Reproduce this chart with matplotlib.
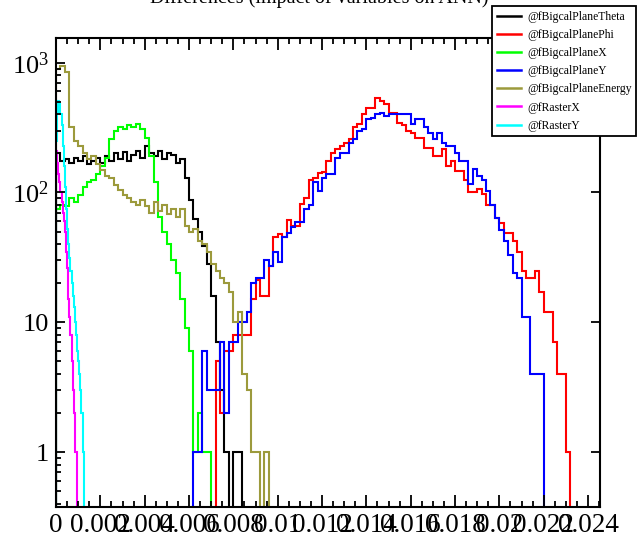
import numpy as np
import matplotlib.pyplot as plt
from matplotlib.lines import Line2D
from matplotlib.ticker import MultipleLocator, LogLocator, NullFormatter, FuncFormatter

plt.rcParams['font.family'] = ['Liberation Serif', 'DejaVu Serif']

# ---- data (counts per bin, log y) ----
title = "Differences (impact of variables on ANN)"
names = ["@fBigcalPlaneTheta", "@fBigcalPlanePhi", "@fBigcalPlaneX",
         "@fBigcalPlaneY", "@fBigcalPlaneEnergy", "@fRasterX", "@fRasterY"]
colors = ["#000000", "#ff0000", "#00ff00", "#0000ff", "#9c9a3c", "#ff00ff", "#00ffff"]

bin_w = 0.0002    # bin width of the BigCal histograms
fine_w = 0.00005  # bin width of the raster histograms

theta_lo = 0.0
theta = [200, 175, 180, 170, 185, 175, 190, 165, 175, 185, 170, 190, 175, 200,
         180, 205, 175, 195, 210, 185, 230, 200, 190, 210, 180, 200, 195, 170,
         180, 130, 87, 62, 50, 39, 28, 16, 7, 3, 1, 0, 1, 1]

phi_lo = 36 * bin_w
phi = [5, 2, 6, 6, 8, 8, 8, 8, 15, 21,
       16, 16, 27, 45, 48, 45, 61, 55, 55, 82,
       91, 124, 130, 142, 145, 175, 203, 218, 230, 240,
       260, 320, 340, 405, 450, 450, 535, 510, 480, 410,
       410, 345, 330, 300, 285, 265, 265, 220, 220, 190,
       190, 218, 160, 175, 147, 147, 124, 100, 100, 107,
       98, 80, 80, 64, 58, 49, 49, 42, 35, 25,
       22, 22, 25, 17, 12, 12, 7, 4, 4, 1]

planex_lo = 0.0
planex = [75, 80, 78, 90, 85, 95, 110, 120, 125, 140, 160, 185, 260, 300, 320,
          310, 330, 320, 340, 310, 265, 190, 120, 65, 50, 40, 30, 24, 15, 9,
          6, 1, 2, 1, 1]

planey_lo = 31 * bin_w
planey = [1, 1, 6, 3, 3, 3, 7, 2, 7, 7,
          10, 10, 12, 20, 22, 22, 30, 27, 35, 29,
          45, 49, 54, 59, 59, 75, 80, 120, 103, 130,
          140, 140, 185, 200, 200, 240, 260, 300, 310, 370,
          375, 405, 410, 390, 400, 400, 405, 405, 405, 340,
          370, 370, 320, 285, 260, 285, 240, 230, 230, 200,
          175, 175, 117, 153, 135, 124, 103, 80, 64, 51,
          42, 33, 24, 22, 11, 11, 4, 4, 4]

energy_lo = 0.0
energy = [900, 950, 850, 320, 250, 230, 200, 180, 190, 165, 150, 135, 130, 115,
          105, 95, 90, 85, 80, 88, 78, 70, 85, 72, 80, 68, 75, 65, 75,
          55, 50, 52, 42, 40, 35, 28, 25, 22, 20, 17, 10, 12, 4, 3, 1, 1, 0, 1]

rasterx_lo = 0.0
rasterx = [210, 170, 140, 120, 100, 85, 70, 60, 50, 35, 26, 15, 11, 8, 5, 3, 2, 1, 1]

rastery_lo = 0.0
rastery = [250, 420, 510, 480, 400, 330, 230, 160, 110, 75, 52, 40, 31, 25, 20,
           16, 13, 10, 8, 6, 5, 4, 3, 2, 1]

series = [(theta_lo, bin_w, theta), (phi_lo, bin_w, phi), (planex_lo, bin_w, planex),
          (planey_lo, bin_w, planey), (energy_lo, bin_w, energy),
          (rasterx_lo, fine_w, rasterx), (rastery_lo, fine_w, rastery)]

floor = 1e-2  # empty bins sit under the frame, like ROOT on a log pad

fig = plt.figure(figsize=(6.38, 5.39), dpi=100)
ax = fig.add_axes([56 / 638, 32 / 539, 544 / 638, 469 / 539])

for (lo, w, counts), col in zip(series, colors):
    v = np.array(counts, dtype=float)
    v[v <= 0] = floor
    edges = lo + w * np.arange(len(v) + 1)
    ax.stairs(v, edges, baseline=floor, color=col, lw=1.5)

ax.set_yscale('log')
ax.set_xlim(0, 0.02454)
ax.set_ylim(0.377, 1550)

ax.set_xticks(np.round(np.arange(0, 0.0241, 0.002), 3))
ax.xaxis.set_major_formatter(FuncFormatter(lambda v, p: f"{v:g}"))
ax.xaxis.set_minor_locator(MultipleLocator(0.0005))

ax.set_yticks([1, 10, 100, 1000])
ax.set_yticklabels(['1', '10', r'$\mathregular{10^{2}}$', r'$\mathregular{10^{3}}$'])
ax.yaxis.set_minor_locator(LogLocator(base=10, subs=np.arange(2, 10)))
ax.yaxis.set_minor_formatter(NullFormatter())

ax.tick_params(which='both', direction='in', top=True, right=True, width=1.3)
ax.tick_params(axis='x', which='major', length=8.5, labelsize=19.5, pad=4)
ax.tick_params(axis='x', which='minor', length=4.3)
ax.tick_params(axis='y', which='major', length=6.5, labelsize=19, pad=5)
ax.tick_params(axis='y', which='minor', length=3.6, right=False)
for s in ax.spines.values():
    s.set_linewidth(1.5)

handles = [Line2D([], [], color=c, lw=1.8) for c in colors]
leg = fig.legend(handles, names, loc='upper left',
                 bbox_to_anchor=(492 / 638, 1 - 6 / 539), borderaxespad=0,
                 fontsize=8.4, frameon=True, fancybox=False, edgecolor='black',
                 framealpha=1, borderpad=0.4, labelspacing=0.53,
                 handlelength=2.1, handletextpad=0.5)
leg.get_frame().set_linewidth(1.3)

fig.text(0.5, 1 - 3 / 539, title, ha='center', va='baseline', fontsize=14.5)

fig.savefig("out.png", dpi=100)
